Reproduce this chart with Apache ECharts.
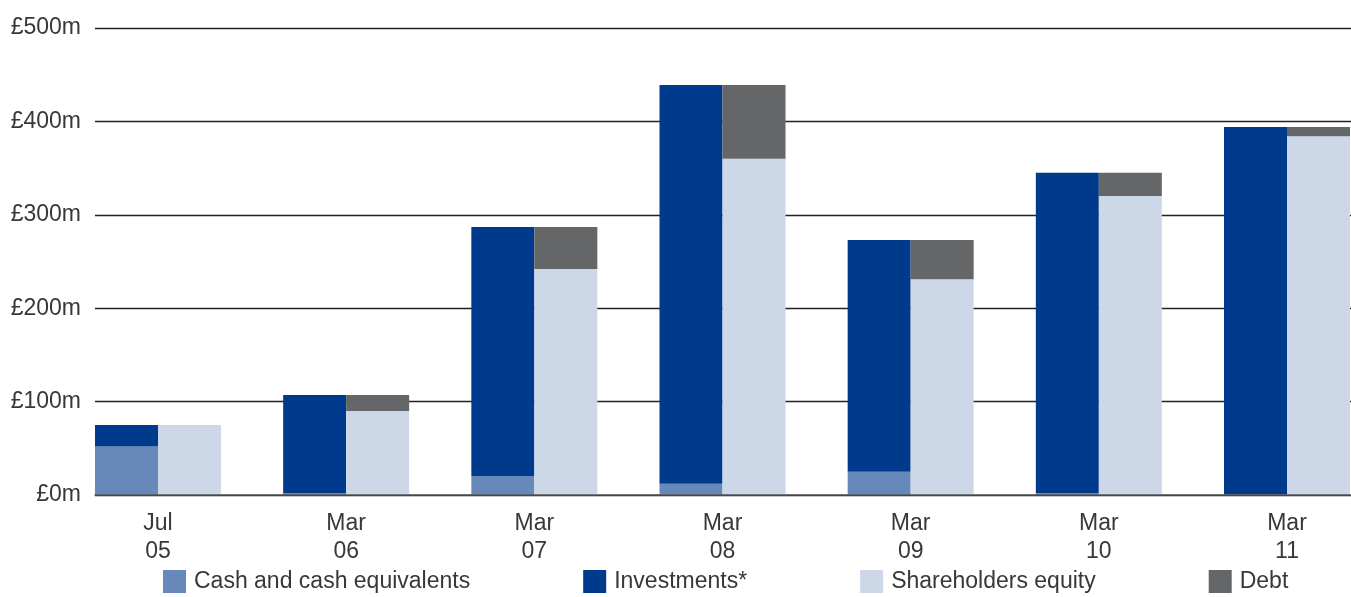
<!DOCTYPE html>
<html>
<head>
<meta charset="utf-8">
<script src="https://cdn.jsdelivr.net/npm/echarts@6/dist/echarts.min.js"></script>
<style>
  html, body { margin: 0; padding: 0; background: #fff; }
  #chart { width: 1351px; height: 597px; }
</style>
</head>
<body>
<div id="chart"></div>
<script>
// data (£m)
const categories = ['Jul\n05', 'Mar\n06', 'Mar\n07', 'Mar\n08', 'Mar\n09', 'Mar\n10', 'Mar\n11']
const cashValues = [52, 2, 20, 12, 25, 2, 1]
const investmentValues = [23, 105, 267, 427, 248, 343, 393]
const equityValues = [75, 90, 242, 360, 231, 320, 384]
const debtValues = [0, 17, 45, 79, 42, 25, 10]
const yTicks = [0, 100, 200, 300, 400, 500]

const FONT = '"Liberation Sans", Arial, sans-serif'
const TEXT = '#383838'
const FS = 23

const chart = echarts.init(document.getElementById('chart'))

const barSeries = (name, data, stack, color) => ({
  name,
  type: 'bar',
  stack,
  data,
  xAxisIndex: 1,
  yAxisIndex: 1,
  barWidth: 63,
  barGap: '0%',
  z: 3,
  itemStyle: { color },
  emphasis: { disabled: true }
})

const option = {
  animation: false,
  backgroundColor: '#fff',
  grid: [
    // grid 0: value labels and horizontal rules
    { left: 95, right: 0, top: 28, bottom: 102 },
    // grid 1: bars, categories sit on the grid edges (boundaryGap false)
    { left: 158, right: 64, top: 28, bottom: 102 }
  ],
  xAxis: [
    {
      gridIndex: 0,
      type: 'value',
      min: 0,
      max: 1,
      offset: 1,
      z: 5,
      axisLine: { show: true, lineStyle: { color: '#555', width: 1.5 } },
      axisTick: { show: false },
      axisLabel: { show: false },
      splitLine: { show: false }
    },
    {
      gridIndex: 1,
      type: 'category',
      data: categories,
      boundaryGap: false,
      axisLine: { show: false },
      axisTick: { show: false },
      axisLabel: {
        interval: 0,
        margin: 15,
        fontFamily: FONT,
        fontSize: FS,
        lineHeight: 28,
        color: TEXT
      }
    }
  ],
  yAxis: [
    {
      gridIndex: 0,
      type: 'value',
      min: yTicks[0],
      max: yTicks[yTicks.length - 1],
      interval: 100,
      axisLine: { show: false },
      axisTick: { show: false },
      axisLabel: {
        margin: 14,
        fontFamily: FONT,
        fontSize: FS,
        color: TEXT,
        formatter: v => '£' + v + 'm'
      },
      splitLine: { lineStyle: { color: '#222', width: 1.4 } }
    },
    {
      gridIndex: 1,
      type: 'value',
      min: 0,
      max: 500,
      show: false,
      splitLine: { show: false }
    }
  ],
  legend: {
    left: 163,
    top: 570,
    padding: 0,
    icon: 'rect',
    itemWidth: 23,
    itemHeight: 23,
    itemGap: 113,
    selectedMode: false,
    textStyle: { fontFamily: FONT, fontSize: FS, color: TEXT, padding: [0, 0, 0, 3] },
    data: ['Cash and cash equivalents', 'Investments*', 'Shareholders equity', 'Debt']
  },
  series: [
    barSeries('Cash and cash equivalents', cashValues, 'assets', '#6789b9'),
    barSeries('Investments*', investmentValues, 'assets', '#003a8c'),
    barSeries('Shareholders equity', equityValues, 'funding', '#ccd8e8'),
    barSeries('Debt', debtValues, 'funding', '#656668')
  ]
}

chart.setOption(option)
</script>
</body>
</html>
